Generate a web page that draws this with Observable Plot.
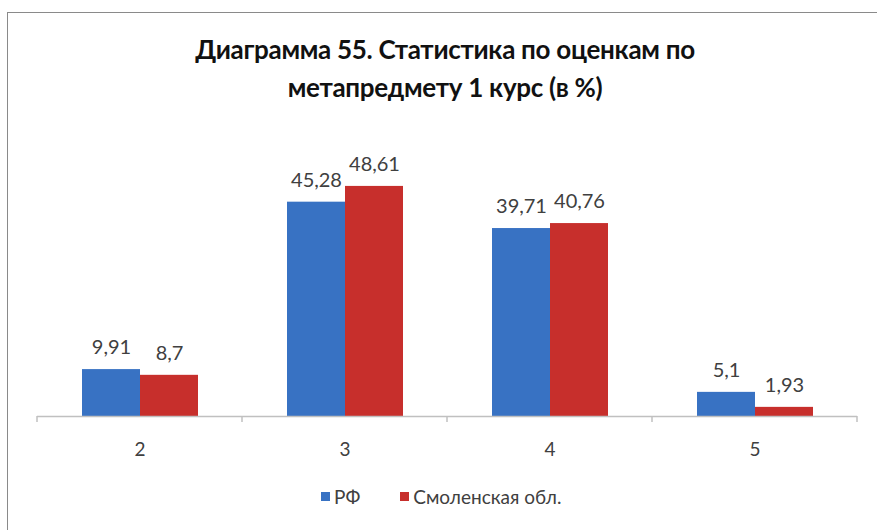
<!DOCTYPE html>
<html><head><meta charset="utf-8">
<script src="https://cdn.jsdelivr.net/npm/d3@7"></script>
<script src="https://cdn.jsdelivr.net/npm/@observablehq/plot@0.6"></script>
<style>
body{margin:0;width:877px;height:530px;overflow:hidden;background:#fff;font-family:Lato,sans-serif;position:relative}
#frame{position:absolute;left:7px;top:12px;width:900px;height:600px;border:1.5px solid #8a8a8a;box-sizing:border-box}
#title{position:absolute;left:7px;width:876px;top:30px;text-align:center;font-weight:bold;font-size:26px;line-height:38px;color:#111;letter-spacing:-0.3px}
#chart{position:absolute;left:0;top:120px}
#legend{position:absolute;top:485px;left:321px;font-size:19px;color:#404040;display:flex;align-items:center;white-space:nowrap}
#legend .sw{display:inline-block;width:9px;height:9px;margin-right:4px}
</style></head><body>
<div id="frame"></div>
<div id="title">Диаграмма 55. Статистика по оценкам по<br>метапредмету 1 курс (в %)</div>
<div id="chart"></div>
<div id="legend"></div>
<script>
const categories = ["2", "3", "4", "5"];
const seriesNames = ["РФ", "Смоленская обл."];
const rfValues = [9.91, 45.28, 39.71, 5.1];
const smolValues = [8.7, 48.61, 40.76, 1.93];
const seriesColors = ["#3872c3", "#c72f2c"];

const rows = categories.flatMap((c, i) => [
  {cat: c, series: seriesNames[0], value: rfValues[i]},
  {cat: c, series: seriesNames[1], value: smolValues[i]}
]);
const fmt = v => String(v).replace(".", ",");

const plot = Plot.plot({
  width: 877, height: 350,
  marginLeft: 37, marginRight: 20, marginTop: 12, marginBottom: 54,
  style: {fontFamily: "Lato, sans-serif", background: "transparent"},
  fx: {domain: categories, padding: 0, label: null},
  x: {domain: seriesNames, paddingInner: 0, paddingOuter: 0.75, axis: null},
  y: {domain: [0, 60], axis: null},
  color: {domain: seriesNames, range: seriesColors},
  marks: [
    Plot.barY(rows, {fx: "cat", x: "series", y: "value", fill: "series", inset: 0}),
    Plot.text(rows, {fx: "cat", x: "series", y: "value", text: d => fmt(d.value), dy: -22, fontSize: 20, fill: "#404040"}),
    Plot.ruleY([0], {stroke: "#c0c0c0", strokeWidth: 1.5}),
    Plot.axisFx({anchor: "bottom", tickSize: 0, tickPadding: 26, fontSize: 19, color: "#404040", label: null})
  ]
});
document.getElementById("chart").appendChild(plot);

// boundary tick marks at category edges, from the fx and y scales
const fxs = plot.scale("fx");
const ys = plot.scale("y");
const y0 = ys.apply(0);
const edges = categories.map(c => fxs.apply(c)).concat([fxs.apply(categories[categories.length - 1]) + fxs.bandwidth]);
d3.select(plot).append("g").selectAll("line").data(edges).join("line")
  .attr("x1", d => d).attr("x2", d => d).attr("y1", y0).attr("y2", y0 + 6)
  .attr("stroke", "#c0c0c0").attr("stroke-width", 1.5);

const legend = d3.select("#legend");
seriesNames.forEach((s, i) => {
  const item = legend.append("span").style("display", "inline-flex").style("align-items", "center").style("margin-right", i === 0 ? "40px" : "0");
  item.append("span").attr("class", "sw").style("background", seriesColors[i]);
  item.append("span").text(s);
});
</script>
</body></html>
